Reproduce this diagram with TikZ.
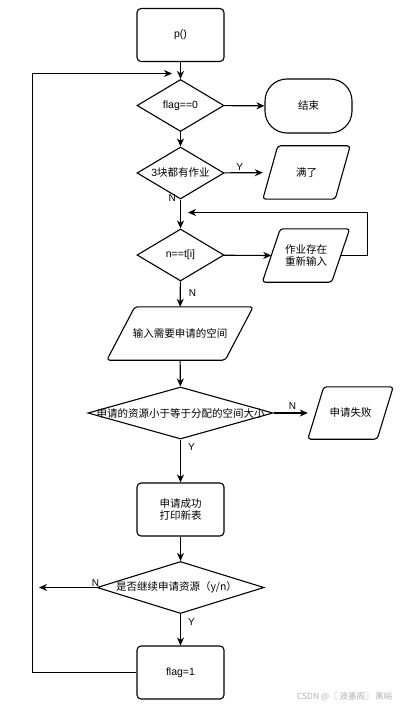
\documentclass[tikz,border=0pt]{standalone}
\usepackage{fontspec}
\setmainfont{Liberation Sans}
\newfontfamily\cjk{Noto Sans CJK SC}
\usetikzlibrary{shapes.geometric,arrows.meta}
\newcommand\iopath[2]{\draw[ln, rounded corners=3pt] ([xshift=#2]#1.north west) -- (#1.north east) -- ([xshift=-#2]#1.south east) -- (#1.south west) -- cycle;}
\begin{document}
\begin{tikzpicture}[x=1pt,y=-1pt,
  every node/.style={font=\fontsize{10.5}{12}\selectfont},
  cjkf/.style={font=\fontsize{10.5}{12}\selectfont\cjk},
  shp/.style={draw, line width=1.1pt, inner sep=0pt, align=center},
  proc/.style={shp, rectangle, rounded corners=4pt, minimum width=87pt, minimum height=53pt},
  term/.style={shp, rectangle, rounded corners=22pt, minimum width=87pt, minimum height=54pt},
  dia/.style={shp, diamond, minimum width=87pt, minimum height=52pt},
  io/.style={rectangle, inner sep=0pt, align=center, minimum width=87pt, minimum height=53pt},
  yn/.style={font=\fontsize{10}{12}\selectfont, inner sep=0pt},
  ln/.style={line width=1.1pt},
  arr/.style={ln, -{Stealth[length=8pt,width=7pt,inset=2.5pt]}}]
\useasboundingbox (0,0) rectangle (410,711);
\fill[white] (0,0) rectangle (410,711);

% nodes
\node[proc] (p) at (180.5,35) {p()};
\node[dia] (d1) at (180.5,105.5) {};
\node (t1) at (d1) {flag==0};
\node[term, cjkf] (end) at (308.5,106) {结束};
\node[dia] (d2) at (180.5,173) {};
\node (t2) at (d2) {3{\cjk 块都有作业}};
\node[io, cjkf] (full) at (306.5,172.5) {满了};
\iopath{full}{15pt}
\node[dia] (d3) at (180.5,255) {};
\node (t3) at (d3) {n==t[i]};
\node[io, cjkf] (exist) at (306,255.5) {作业存在\\重新输入};
\iopath{exist}{18pt}
\node[io, cjkf, minimum width=146pt] (input) at (180,333.5) {输入需要申请的空间};
\iopath{input}{28pt}
\node[dia, minimum width=185pt] (d4) at (180.5,413) {};
\node[cjkf] (t4) at (d4) {申请的资源小于等于分配的空间大小};
\node[io, cjkf, minimum width=85pt, minimum height=52pt] (fail) at (350.5,413) {申请失败};
\iopath{fail}{16pt}
\node[proc, cjkf] (ok) at (180.5,509.5) {申请成功\\打印新表};
\node[dia, minimum width=167pt] (d5) at (180.5,587.5) {};
\node[cjkf] (t5) at ([xshift=-4pt]d5.center) {是否继续申请资源（y/n）};
\node[proc] (f1) at (180.5,672.5) {flag=1};

% free ends
\coordinate (lc) at (32.5,73.5);
\coordinate (loopend) at (172,73.5);
\coordinate (rc) at (367.5,212.5);
\coordinate (retend) at (188,212.5);
\coordinate (nend) at (39,587.5);

% connectors
\draw[arr] (p) -- (d1);
\draw[arr] (d1) -- (end);
\draw[arr] (d1) -- (d2);
\draw[arr] (d2) -- (full) node[yn, pos=0.4, above=2pt] {Y};
\draw[arr] (d2) -- (d3) node[yn, pos=0, left=4pt, yshift=1pt] {N};
\draw[arr] (d3) -- ([xshift=9pt]exist.west);
\draw[arr] ([xshift=-9pt]exist.east) -| (rc) -- (retend);
\draw[arr] (d3) -- (input) node[yn, pos=0.45, right=8pt] {N};
\draw[arr] (input) -- (d4);
\draw[arr] (d4) -- (fail) node[yn, pos=0.55, above=3pt] {N};
\draw[arr] (d4) -- (ok) node[yn, pos=0.18, right=7pt] {Y};
\draw[arr] (ok) -- (d5);
\draw[arr] (d5) -- (nend) node[yn, pos=0, yshift=4pt, xshift=-1pt] {N};
\draw[arr] (d5) -- (f1) node[yn, pos=0.25, right=7pt] {Y};
\draw[arr] (f1) -| (lc) -- (loopend);

% watermark
\node[anchor=east, text=black!30, font=\fontsize{8.5}{10}\selectfont\cjk] (wm) at (396,697) {CSDN @〖 波墨阁〗 离峪};
\end{tikzpicture}
\end{document}
